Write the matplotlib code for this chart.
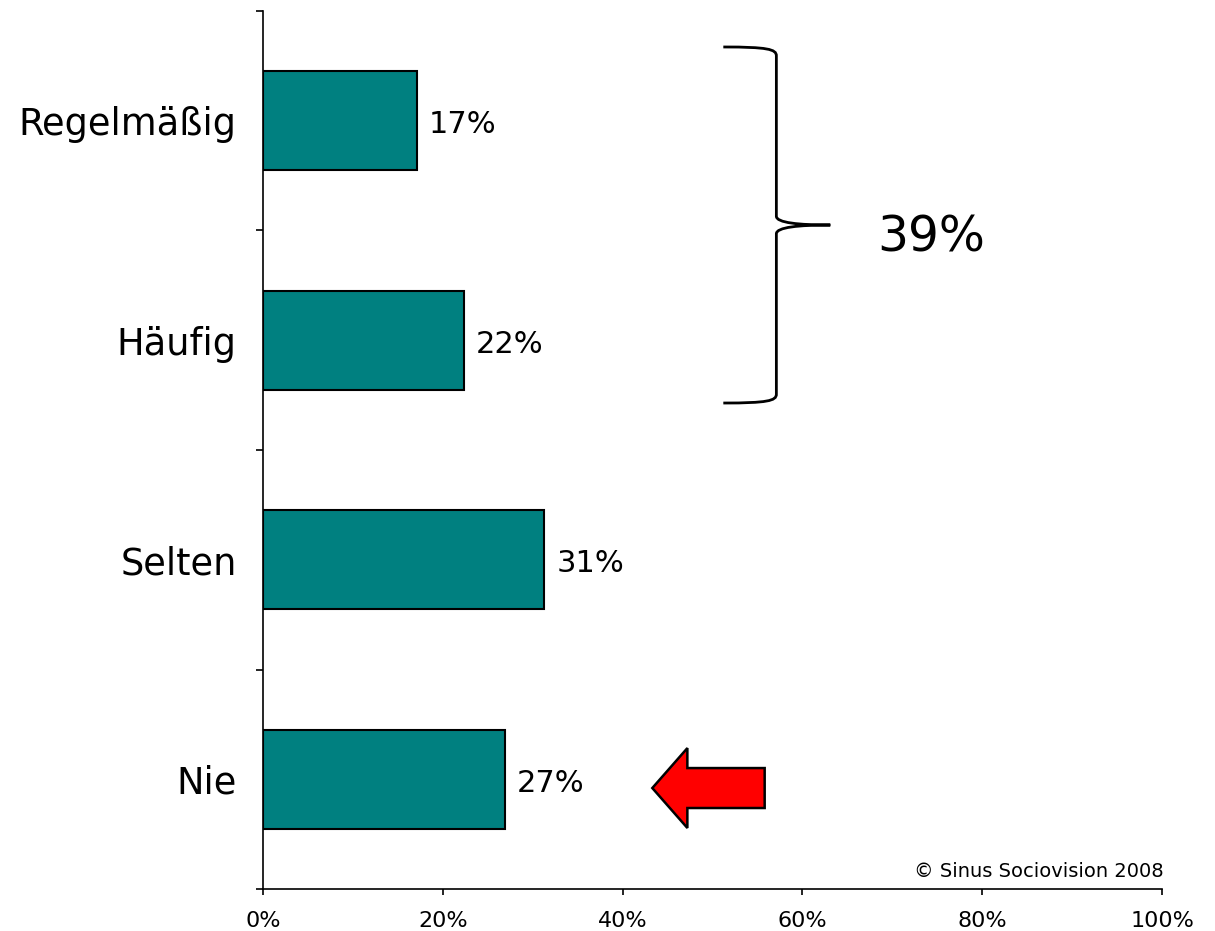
import matplotlib
matplotlib.use("Agg")
import matplotlib.pyplot as plt
from matplotlib.patches import FancyArrow, PathPatch
from matplotlib.path import Path

categories = ["Regelmäßig", "Häufig", "Selten", "Nie"]
values = [17.1, 22.4, 31.3, 26.9]
x_ticks = [0, 20, 40, 60, 80, 100]
total_label = "39%"
credit = "© Sinus Sociovision 2008"

plt.rcParams['font.family'] = ['DejaVu Sans']

fig = plt.figure(figsize=(12.15, 9.31), dpi=100)
ax = fig.add_axes([0.2165, 0.0451, 0.7399, 0.9431])

y = list(range(len(categories)))
ax.barh(y, values, height=0.45, color="#008080", edgecolor="black", linewidth=1.5)

for yi, v in zip(y, values):
    ax.annotate(f"{v:.0f}%", (v, yi), xytext=(8.5, -3), textcoords="offset points",
                ha="left", va="center", fontsize=22)

ax.set_xlim(0, 100)
ax.set_ylim(len(categories) - 0.5, -0.5)

ax.set_xticks(x_ticks)
ax.set_xticklabels([f"{t}%" for t in x_ticks], fontsize=16)
ax.tick_params(axis="x", length=4, width=1.2, pad=12)

ax.set_yticks(y)
ax.set_yticklabels(categories, fontsize=26.5)
ax.set_yticks([i - 0.5 for i in range(len(categories) + 1)], minor=True)
ax.tick_params(axis="y", which="major", length=0, pad=19)
ax.tick_params(axis="y", which="minor", length=5, width=1.2, direction="out")

for s in ["top", "right"]:
    ax.spines[s].set_visible(False)
for s in ["left", "bottom"]:
    ax.spines[s].set_linewidth(1.2)

# curly brace over the first two bars
xa, xb, xc = 51.2, 57.1, 63.1
y0, ym, y1 = -0.336, 0.475, 1.286
verts = [
    (xa, y0), (xb - 1.0, y0), (xb, y0 + 0.01), (xb, y0 + 0.04),
    (xb, ym - 0.04),
    (xb, ym - 0.01), (xb + 2.5, ym), (xc, ym),
    (xb + 2.5, ym), (xb, ym + 0.01), (xb, ym + 0.04),
    (xb, y1 - 0.04),
    (xb, y1 - 0.01), (xb - 1.0, y1), (xa, y1),
]
codes = [Path.MOVETO, Path.CURVE4, Path.CURVE4, Path.CURVE4,
         Path.LINETO,
         Path.CURVE4, Path.CURVE4, Path.CURVE4,
         Path.CURVE4, Path.CURVE4, Path.CURVE4,
         Path.LINETO,
         Path.CURVE4, Path.CURVE4, Path.CURVE4]
ax.add_patch(PathPatch(Path(verts, codes), facecolor="none", edgecolor="black",
                       linewidth=2, clip_on=False))
ax.text(68.3, 0.53, total_label, fontsize=35, ha="left", va="center")

# red arrow pointing at "Nie"
ax.add_patch(FancyArrow(55.8, 3.04, -12.5, 0, width=0.182, head_width=0.364,
                        head_length=3.9, length_includes_head=True,
                        facecolor="red", edgecolor="black", linewidth=1.8))

ax.text(100.2, 3.42, credit, fontsize=14, ha="right", va="center")

fig.savefig("out.png", dpi=100)
